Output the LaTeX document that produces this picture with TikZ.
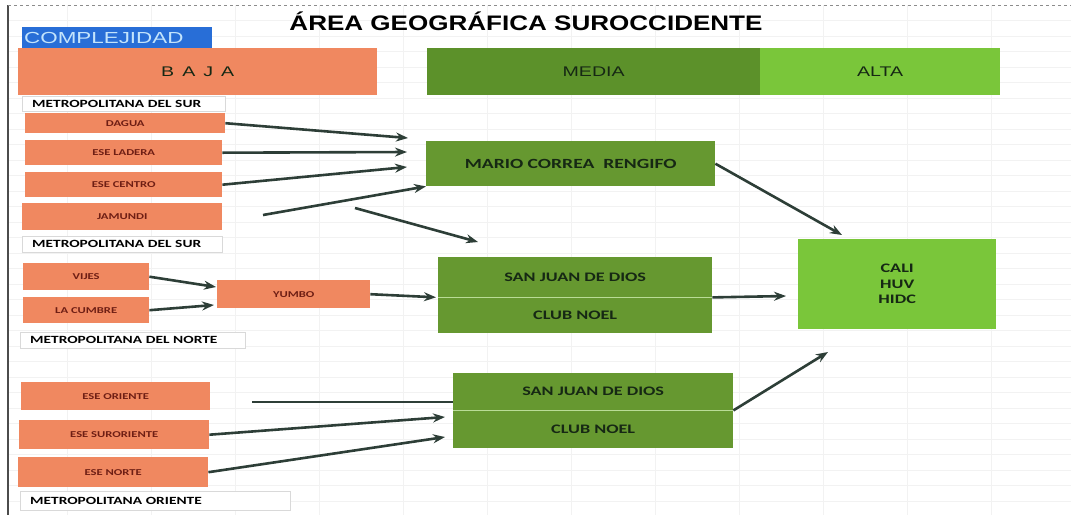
\documentclass[tikz,border=0pt]{standalone}
\usepackage{fontspec}
\setmainfont{Carlito}[FakeStretch=1.4]
\newfontfamily\arialh{Liberation Sans}[FakeStretch=1.4]
\newfontfamily\arialt{Liberation Sans}[FakeStretch=1.24]
\usetikzlibrary{arrows.meta}
\definecolor{naranja}{RGB}{240,136,96}
\definecolor{cafe}{RGB}{110,30,20}
\definecolor{azul}{RGB}{40,110,215}
\definecolor{azulT}{RGB}{195,228,252}
\definecolor{verdeM}{RGB}{92,145,42}
\definecolor{verdeC}{RGB}{102,152,48}
\definecolor{verdeA}{RGB}{122,198,58}
\definecolor{verdeT}{RGB}{22,40,20}
\definecolor{verdeL}{RGB}{185,220,150}
\definecolor{flechac}{RGB}{45,62,55}
\begin{document}
\begin{tikzpicture}[x=1pt, y=-1pt,
    caja/.style={anchor=north west, inner sep=0pt, font=\bfseries\fontsize{9}{11}\selectfont},
    baja/.style={caja, fill=naranja, text=cafe},
    media/.style={caja, fill=verdeC, text=verdeT, align=center,
      font=\bfseries\fontsize{13}{15.5}\selectfont},
    alta/.style={media, fill=verdeA},
    etiqueta/.style={caja, draw=black!15, fill=white, align=left, inner xsep=10pt,
      font=\bfseries\fontsize{11}{12}\selectfont},
    cabecera/.style={caja, text=verdeT, font=\arialh\fontsize{14}{16}\selectfont},
    flecha/.style={draw=flechac, line width=2.6pt, -{Stealth[length=12pt,width=9pt]}},
    linea/.style={draw=flechac, line width=2.6pt},
    rejilla/.style={draw=black!5, line width=0.4pt},
    divisor/.style={draw=verdeL, line width=1pt}]
  \useasboundingbox (0,0) rectangle (1071,515);
  % hoja de fondo
  \foreach \gx in {67,151,...,991}
    \draw[rejilla] (\gx,5) -- (\gx,515);
  \foreach \gy in {20.5,36,...,515}
    \draw[rejilla] (8,\gy) -- (1071,\gy);
  \draw[black!70, line width=1.2pt] (8,5) -- (8,515);
  \draw[black!45, dashed, line width=0.6pt] (8,5) -- (1071,5);

  % titulo y niveles de complejidad
  \node[font=\arialt\bfseries\fontsize{21}{24}\selectfont, anchor=base] (titulo) at (526,30)
    {ÁREA GEOGRÁFICA SUROCCIDENTE};
  \node[caja, fill=azul, text=azulT, text width=186pt, inner xsep=2pt, minimum height=21pt,
    align=left, font=\arialh\fontsize{16}{18}\selectfont] (compl) at (22,27) {COMPLEJIDAD};
  \node[cabecera, fill=naranja, minimum width=359pt, minimum height=47pt] (nbaja) at (18,48)
    {B\hspace{8pt}A\hspace{8pt}J\hspace{8pt}A};
  \node[cabecera, fill=verdeM, minimum width=333pt, minimum height=47pt] (nmedia) at (427,48) {MEDIA};
  \node[cabecera, fill=verdeA, minimum width=240pt, minimum height=47pt] (nalta) at (760,48) {ALTA};

  % baja complejidad
  \node[etiqueta, text width=183pt, minimum height=15pt] (lblA) at (22,96) {METROPOLITANA DEL SUR};
  \node[baja, minimum width=200pt, minimum height=20pt] (dagua) at (25,113) {DAGUA};
  \node[baja, minimum width=197pt, minimum height=25pt] (ladera) at (25,140) {ESE LADERA};
  \node[baja, minimum width=197pt, minimum height=25pt] (centro) at (25,172) {ESE CENTRO};
  \node[baja, minimum width=200pt, minimum height=27pt] (jamundi) at (22,203) {JAMUNDI};
  \node[etiqueta, text width=180pt, minimum height=16pt] (lblB) at (22,236) {METROPOLITANA DEL SUR};
  \node[baja, minimum width=126pt, minimum height=27pt] (vijes) at (23,263) {VIJES};
  \node[baja, minimum width=126pt, minimum height=26pt] (cumbre) at (23,297) {LA CUMBRE};
  \node[baja, minimum width=153pt, minimum height=28pt] (yumbo) at (217,280) {YUMBO};
  \node[etiqueta, text width=205pt, minimum height=16pt] (lblC) at (20,332) {METROPOLITANA DEL NORTE};
  \node[baja, minimum width=189pt, minimum height=28pt] (oriente) at (21,382) {ESE ORIENTE};
  \node[baja, minimum width=190pt, minimum height=29pt] (surori) at (19,420) {ESE SURORIENTE};
  \node[baja, minimum width=190pt, minimum height=30pt] (norte) at (18,457) {ESE NORTE};
  \node[etiqueta, text width=250pt, minimum height=19pt] (lblD) at (20,491) {METROPOLITANA ORIENTE};

  % media y alta complejidad
  \node[media, minimum width=289pt, minimum height=45pt, font=\bfseries\fontsize{14}{16}\selectfont]
    (mario) at (426,141) {MARIO CORREA\ \ RENGIFO};
  \node[media, minimum width=274pt, minimum height=40pt] (sjA) at (438,257) {SAN JUAN DE DIOS};
  \node[media, minimum width=274pt, minimum height=36pt] (noelA) at (438,297) {CLUB NOEL};
  \node[media, minimum width=280pt, minimum height=37pt] (sjB) at (453,373) {SAN JUAN DE DIOS};
  \node[media, minimum width=280pt, minimum height=38pt] (noelB) at (453,410) {CLUB NOEL};
  \node[alta, minimum width=198pt, minimum height=90pt] (cali) at (798,239) {CALI\\HUV\\HIDC};
  \draw[divisor] (sjA.south west) -- (sjA.south east);
  \draw[divisor] (sjB.south west) -- (sjB.south east);

  % flechas
  \coordinate (p1) at (408,138);
  \coordinate (p2) at (407,152);
  \coordinate (p3) at (407,167);
  \coordinate (q4) at (263,215);
  \coordinate (q5) at (355,208);
  \coordinate (p5) at (478,242);
  \coordinate (p6) at (842,235);
  \coordinate (p7) at (786,296);
  \coordinate (y1) at (216,287);
  \coordinate (y2) at (214,305);
  \coordinate (q8) at (252,402);
  \coordinate (p9) at (445,417);
  \coordinate (p10) at (445,437);
  \coordinate (p11) at (828,352);
  \draw[flecha] (dagua.east) -- (p1);
  \draw[flecha] (ladera.east) -- (p2);
  \draw[flecha] (centro.east) -- (p3);
  \draw[flecha] (q4) -- (mario.south west);
  \draw[flecha] (q5) -- (p5);
  \draw[flecha] (mario.east) -- (p6);
  \draw[flecha] (vijes.east) -- (y1);
  \draw[flecha] (cumbre.east) -- (y2);
  \draw[flecha, shorten >=2pt] (yumbo.east) -- (sjA.south west);
  \draw[flecha] (sjA.south east) -- (p7);
  \draw[linea] (q8) -- (q8 -| sjB.west);
  \draw[flecha] (surori.east) -- (p9);
  \draw[flecha] (norte.east) -- (p10);
  \draw[flecha] (sjB.south east) -- (p11);
\end{tikzpicture}
\end{document}
